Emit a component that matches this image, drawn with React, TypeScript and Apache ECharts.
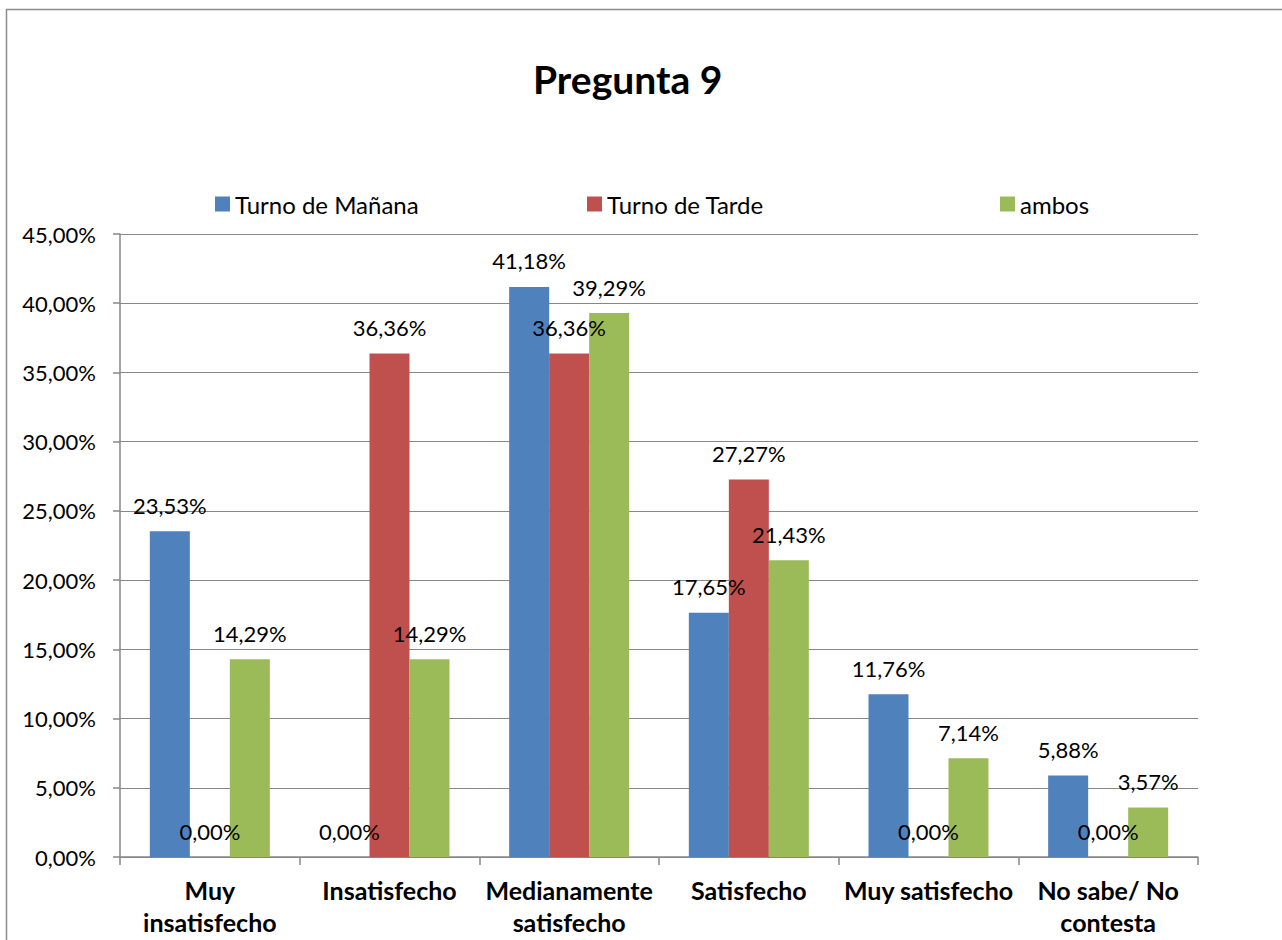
import React, { useEffect, useRef } from "react";
import * as echarts from "echarts";

const categories = [
  "Muy\ninsatisfecho",
  "Insatisfecho",
  "Medianamente\nsatisfecho",
  "Satisfecho",
  "Muy satisfecho",
  "No sabe/ No\ncontesta",
];
const seriesNames = ["Turno de Mañana", "Turno de Tarde", "ambos"];
const manana = [23.53, 0, 41.18, 17.65, 11.76, 5.88];
const tarde = [0, 36.36, 36.36, 27.27, 0, 0];
const ambos = [14.29, 14.29, 39.29, 21.43, 7.14, 3.57];
const colors = ["#4F81BD", "#C0504D", "#9BBB59"];

const FONT = "Lato, 'Open Sans', sans-serif";
const fmt = (v: number) => v.toFixed(2).replace(".", ",") + "%";

export default function App() {
  const ref = useRef<HTMLDivElement>(null);
  useEffect(() => {
    if (!ref.current) return;
    const chart = echarts.init(ref.current, null, { renderer: "svg" });
    const data = [manana, tarde, ambos];
    const legendLefts = [215, 587, 1000];
    chart.setOption({
      animation: false,
      backgroundColor: "#fff",
      textStyle: { fontFamily: FONT },
      title: {
        text: "Pregunta 9",
        left: 528,
        top: 54,
        textStyle: { fontFamily: FONT, fontSize: 39, fontWeight: "bold", color: "#000" },
      },
      legend: seriesNames.map((n, i) => ({
        data: [n],
        left: legendLefts[i],
        top: 192,
        padding: 0,
        itemWidth: 15,
        itemHeight: 15,
        itemGap: 5,
        icon: "rect",
        textStyle: { fontFamily: FONT, fontSize: 24, color: "#000" },
      })),
      graphic: [
        {
          type: "rect",
          shape: { x: 6.5, y: 9.5, width: 1400, height: 1000 },
          style: { fill: "none", stroke: "#8c8c8c", lineWidth: 1.5 },
          silent: true,
        },
      ],
      grid: { left: 120, top: 234, right: 84, bottom: 83, containLabel: false },
      xAxis: {
        type: "category",
        data: categories,
        boundaryGap: true,
        axisLine: { lineStyle: { color: "#878787", width: 1.5 } },
        axisTick: { show: true, length: 8, alignWithLabel: false, lineStyle: { color: "#878787", width: 1.5 } },
        axisLabel: {
          interval: 0,
          margin: 17,
          fontFamily: FONT,
          fontSize: 25,
          fontWeight: "bold",
          color: "#000",
          lineHeight: 32,
        },
      },
      yAxis: {
        type: "value",
        min: 0,
        max: 45,
        interval: 5,
        axisLine: { show: true, lineStyle: { color: "#878787", width: 1.5 } },
        axisTick: { show: true, length: 7, lineStyle: { color: "#878787", width: 1.5 } },
        splitLine: { lineStyle: { color: "#878787", width: 1.2 } },
        axisLabel: {
          formatter: (v: number) => fmt(v),
          margin: 24,
          fontFamily: FONT,
          fontSize: 22,
          color: "#000",
        },
      },
      series: seriesNames.map((n, i) => ({
        name: n,
        type: "bar",
        data: data[i],
        barWidth: 40,
        barGap: "0%",
        itemStyle: { color: colors[i] },
        label: {
          show: true,
          position: "top",
          distance: 15,
          formatter: (p: any) => fmt(p.value),
          fontFamily: FONT,
          fontSize: 22,
          color: "#000",
        },
      })),
    });
    return () => chart.dispose();
  }, []);
  return (
    <div
      ref={ref}
      style={{ position: "absolute", left: 0, top: 0, width: 1282, height: 940 }}
    />
  );
}
